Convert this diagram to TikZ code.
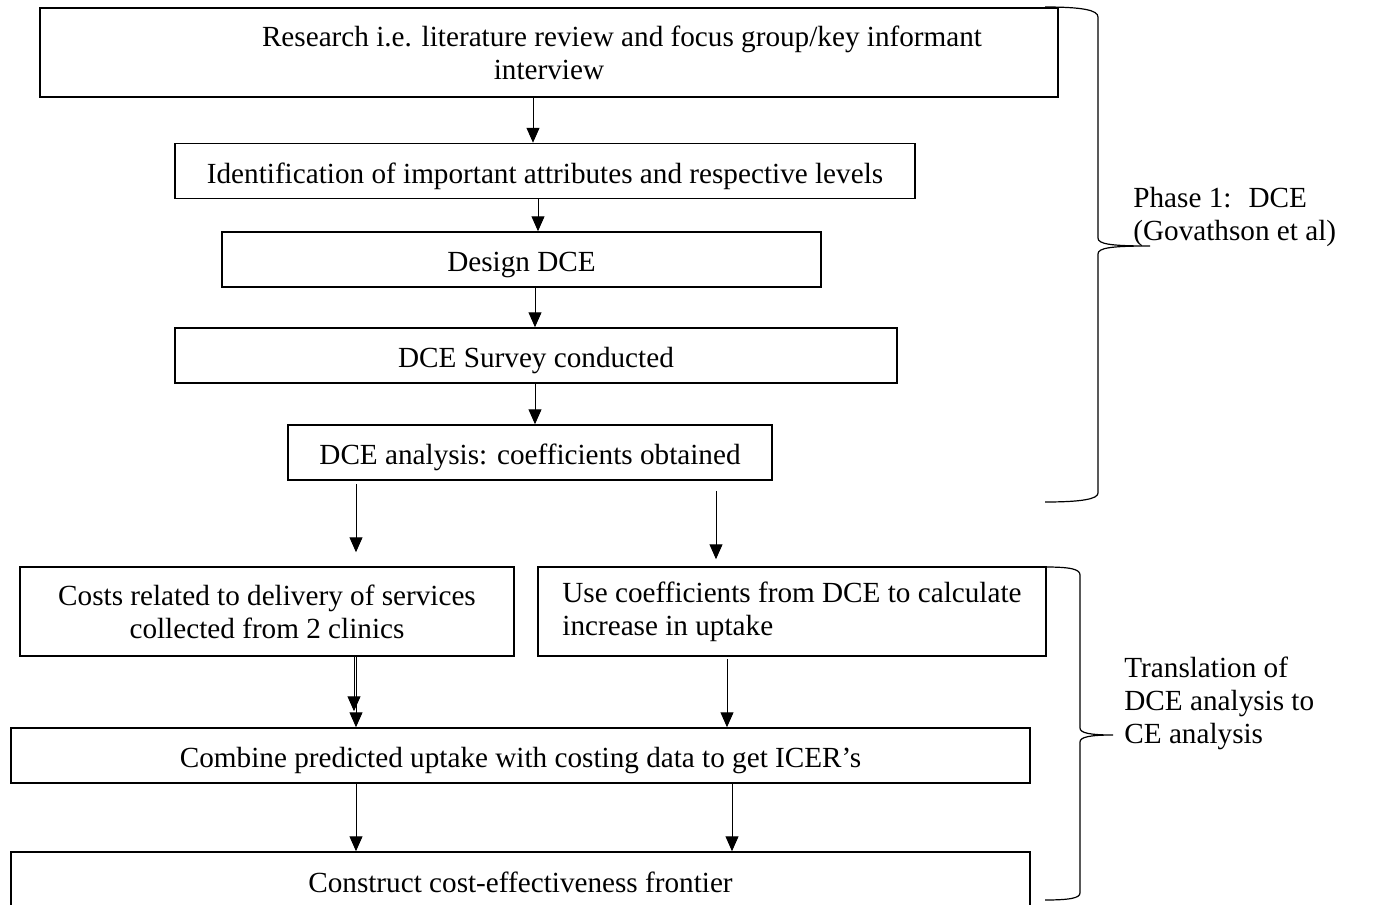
\documentclass[tikz,border=0pt]{standalone}
\usepackage{fontspec}
\setmainfont{Liberation Serif}
\usetikzlibrary{arrows.meta}
\tikzstyle{stage}=[draw, line width=0.75pt, inner sep=0pt, minimum height=27.5pt, align=center, font=\fontsize{14.6}{16.5}\selectfont]
\tikzstyle{oneline}=[stage, text height=15pt, text depth=3pt]
\tikzstyle{arr}=[-{Triangle[width=6.5pt,length=7.5pt]}, line width=0.5pt]
\tikzstyle{note}=[anchor=west, align=left, inner sep=0pt, font=\fontsize{14.6}{16.5}\selectfont]

\begin{document}
\begin{tikzpicture}[x=0.5pt,y=-0.5pt]
   \useasboundingbox (0,0) rectangle (1373,905);
   % phase 1 boxes
   \node[stage, minimum width=509pt, minimum height=44.5pt] (research) at (549,52.5) {\hspace*{73pt}Research i.e. literature review and focus group/key informant\\interview};
   \node[oneline, minimum width=370pt] (ident) at (545,171) {Identification of important attributes and respective levels};
   \node[oneline, minimum width=299.5pt] (design) at (521.5,259.5) {Design DCE};
   \node[oneline, minimum width=361pt] (survey) at (536,355.5) {DCE Survey conducted};
   \node[oneline, minimum width=242pt] (analysis) at (530,452.5) {DCE analysis: coefficients obtained};
   % translation boxes
   \node[stage, minimum width=247pt, minimum height=44.5pt] (costs) at (267,611.5) {Costs related to delivery of services\\collected from 2 clinics};
   \node[stage, align=flush left, minimum width=254pt, minimum height=44.5pt] (uptake) at (792,611.5) {Use coefficients from DCE to calculate\\increase in uptake};
   \node[oneline, minimum width=509.5pt] (combine) at (520.5,755.5) {Combine predicted uptake with costing data to get ICER’s};
   \node[stage, minimum width=509.5pt, minimum height=30pt] (construct) at (520.5,882) {Construct cost-effectiveness frontier};

   \draw[arr] ([xshift=-8pt]research.south) -- ([xshift=-8pt]research.south |- ident.north);
   \draw[arr] ([xshift=-3.5pt]ident.south) -- ([xshift=-3.5pt]ident.south |- design.north);
   \draw[arr] ([xshift=6.75pt]design.south) -- ([xshift=6.75pt]design.south |- survey.north);
   \draw[arr] ([xshift=-0.5pt]survey.south) -- ([xshift=-0.5pt]survey.south |- analysis.north);
   \draw[arr, shorten <=1.5pt, shorten >=7pt] ([xshift=-87pt]analysis.south) -- ([xshift=-87pt]analysis.south |- costs.north);
   \draw[arr, shorten <=5pt, shorten >=3.5pt] ([xshift=93pt]analysis.south) -- ([xshift=93pt]analysis.south |- uptake.north);
   \draw[arr, shorten >=8pt] ([xshift=43.5pt]costs.south) -- ([xshift=43.5pt]costs.south |- combine.north);
   \draw[arr] ([xshift=44.5pt]costs.south) -- ([xshift=44.5pt]costs.south |- combine.north);
   \draw[arr, shorten <=1pt] ([xshift=-32.5pt]uptake.south) -- ([xshift=-32.5pt]uptake.south |- combine.north);
   \draw[arr] ([xshift=-82.25pt]combine.south) -- ([xshift=-82.25pt]combine.south |- construct.north);
   \draw[arr] ([xshift=105.75pt]combine.south) -- ([xshift=105.75pt]combine.south |- construct.north);

   % braces
   \draw[line width=0.6pt] (1045,7) .. controls (1082,7) and (1098,10) .. (1098,17) -- (1098,238)
      .. controls (1098,244) and (1110,246) .. (1150,246) .. controls (1110,246) and (1098,248) .. (1098,254)
      -- (1098,493) .. controls (1098,499) and (1082,502) .. (1045,502);
   \draw[line width=0.6pt] (1045,567) .. controls (1070,567) and (1080,569) .. (1080,575) -- (1080,728)
      .. controls (1080,733) and (1090,735) .. (1113,735) .. controls (1090,735) and (1080,737) .. (1080,742)
      -- (1080,893) .. controls (1080,898) and (1070,900) .. (1045,900);
   \node[note] (phase) at (1133,217) {Phase 1:~ DCE\\(Govathson et al)};
   \node[note] (transl) at (1124,703) {Translation of\\DCE analysis to\\CE analysis};
\end{tikzpicture}
\end{document}
